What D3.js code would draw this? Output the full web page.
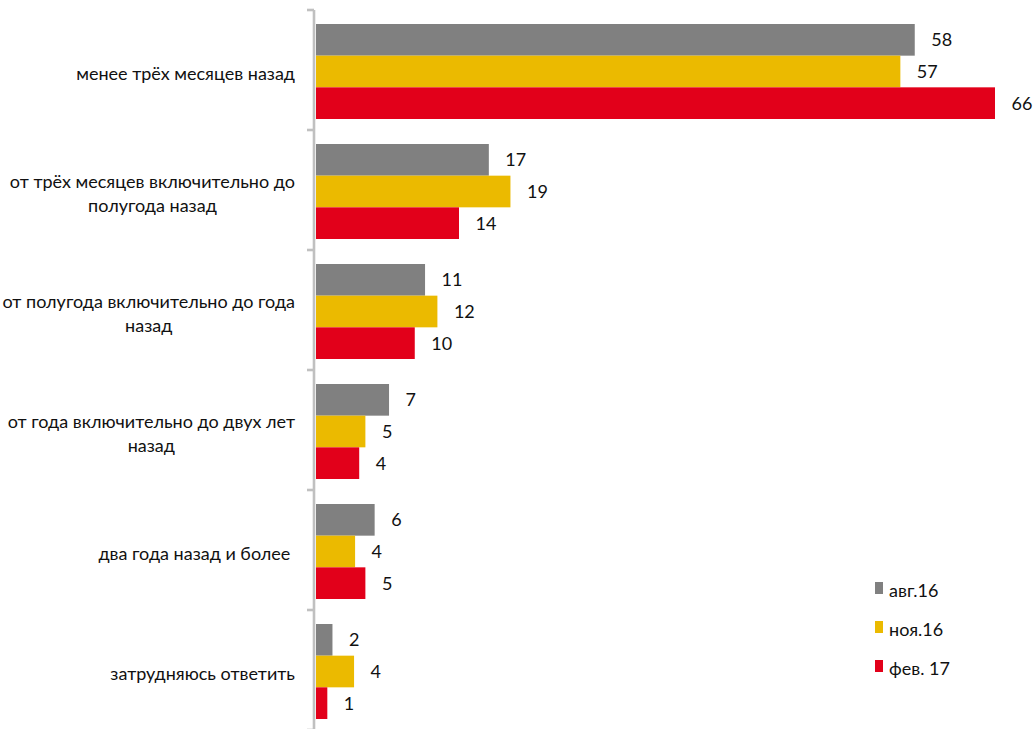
<!DOCTYPE html>
<html><head><meta charset="utf-8">
<script src="https://cdn.jsdelivr.net/npm/d3@7"></script>
<style>body{margin:0;background:#fff} text{font-family:Lato,sans-serif;font-size:18px;fill:#111;white-space:pre}</style>
</head><body>
<svg id="c" width="1034" height="729"></svg>
<script>
// ---- data ----
const categories = [
  ["менее трёх месяцев назад"],
  ["от трёх месяцев включительно до", "полугода назад"],
  ["от полугода включительно до года", "назад"],
  ["от года включительно до двух лет", "назад"],
  ["два года назад и более "],
  ["затрудняюсь ответить"]
];
const seriesNames = ["авг.16", "ноя.16", "фев. 17"];
// values; labels show them rounded
const aug16 = [58.2, 16.8, 10.6, 7.1, 5.7, 1.6];
const nov16 = [56.8, 18.9, 11.8, 4.8, 3.8, 3.7];
const feb17 = [66.0, 13.9, 9.6, 4.2, 4.8, 1.1];
const seriesValues = [aug16, nov16, feb17];
const colors = ["#808080", "#EBBA00", "#E2001A"];

// ---- layout ----
const svg = d3.select("#c");
const keys = categories.map((c, i) => i);
const y = d3.scaleBand().domain(keys).range([10, 730]).paddingInner(0).paddingOuter(0);
const inner = d3.scaleBand().domain([0, 1, 2]).range([14, 109]).padding(0);
const x = d3.scaleLinear().domain([0, 66]).range([316, 995]);
const fmt = d3.format(".0f");

// bars
categories.forEach((cat, ci) => {
  const g = svg.append("g").attr("transform", `translate(0,${y(ci)})`);
  seriesValues.forEach((vals, si) => {
    const v = vals[ci];
    g.append("rect")
      .attr("x", x(0)).attr("y", inner(si))
      .attr("width", x(v) - x(0)).attr("height", inner.bandwidth())
      .attr("fill", colors[si]);
    g.append("text")
      .attr("x", x(v) + 16.5)
      .attr("y", inner(si) + inner.bandwidth() / 2 + 6.5)
      .text(fmt(v));
  });
});

// axis line and ticks
const axisX = 314;
svg.append("line").attr("x1", axisX).attr("x2", axisX).attr("y1", 10).attr("y2", 730)
  .attr("stroke", "#c0c0c0").attr("stroke-width", 2.6);
const tickPos = keys.map(k => y(k)).concat([y(keys[keys.length - 1]) + y.bandwidth()]);
svg.selectAll("line.tick").data(tickPos).enter().append("line")
  .attr("class", "tick")
  .attr("x1", axisX - 7).attr("x2", axisX).attr("y1", d => d).attr("y2", d => d)
  .attr("stroke", "#c0c0c0").attr("stroke-width", 2.6);

// category labels: lines centered to each other, block right-aligned
const rightEdge = 295;
categories.forEach((lines, ci) => {
  const cy = y(ci) + y.bandwidth() / 2;
  const tmp = svg.append("g");
  const widths = lines.map(l => tmp.append("text").text(l).node().getComputedTextLength());
  tmp.remove();
  const maxW = d3.max(widths);
  const cx = rightEdge - maxW / 2;
  const lh = 24;
  const y0 = cy - (lines.length - 1) * lh / 2 + 10;
  lines.forEach((l, li) => {
    svg.append("text").attr("x", cx).attr("y", y0 + li * lh)
      .attr("text-anchor", "middle").text(l);
  });
});

// legend
const legendY = [597, 636, 675];
seriesNames.forEach((n, i) => {
  svg.append("rect").attr("x", 875).attr("y", legendY[i] - 15).attr("width", 8).attr("height", 12)
    .attr("fill", colors[i]);
  svg.append("text").attr("x", 889).attr("y", legendY[i]).text(n);
});
</script>
</body></html>
